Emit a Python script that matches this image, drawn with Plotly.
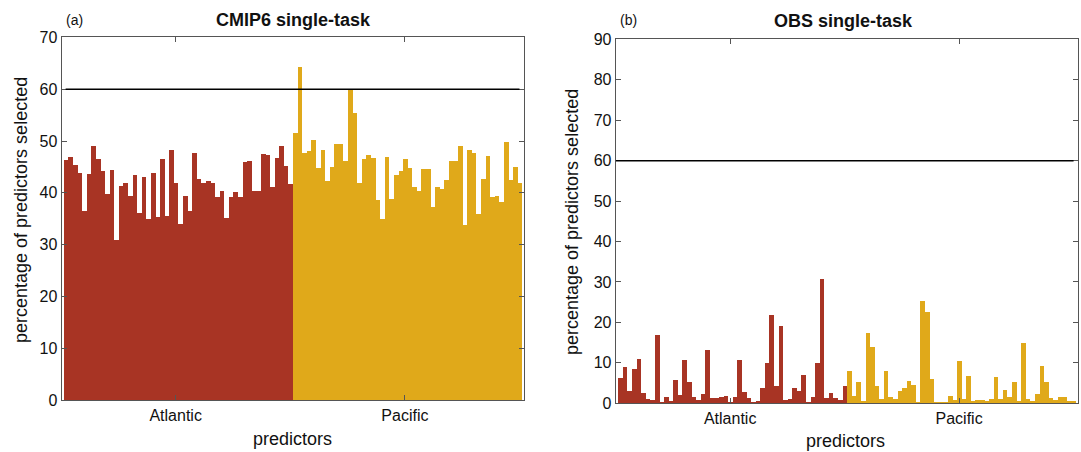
import plotly.graph_objects as go

# ---- data ----
cmip6_atlantic = [46.3, 46.9, 45.3, 43.7, 36.4, 43.5, 48.9, 46.5, 44.1, 39.7,
                  44.3, 30.9, 41.3, 41.9, 39.3, 43.3, 36.1, 43.1, 34.9, 43.7,
                  35.3, 46.5, 35.5, 48.3, 41.9, 33.9, 39.3, 36.5, 47.7, 42.6,
                  41.9, 42.3, 41.9, 39.1, 40.4, 35.1, 39.2, 40.1, 39.1, 45.9,
                  46.1, 40.3, 40.4, 47.5, 47.3, 41.1, 46.7, 49.0, 45.1, 41.7]
cmip6_pacific = [51.5, 64.3, 47.7, 48.1, 50.1, 44.7, 48.3, 42.3, 44.9, 49.3,
                 49.3, 46.1, 59.7, 55.3, 41.9, 46.5, 47.3, 46.7, 38.5, 34.9,
                 46.9, 38.7, 43.3, 44.1, 46.5, 44.7, 41.1, 40.4, 44.5, 44.5,
                 37.3, 41.0, 40.7, 42.5, 46.1, 46.1, 48.9, 33.7, 48.3, 47.7,
                 35.9, 42.7, 47.1, 39.1, 39.3, 38.1, 49.7, 42.5, 44.9, 41.9]
obs_atlantic = [6.2, 8.9, 3.0, 8.4, 11.0, 2.4, 1.0, 0.7, 16.7, 0.2,
                1.4, 0.6, 5.8, 2.0, 10.6, 5.3, 1.4, 0.7, 2.2, 13.1,
                1.2, 1.2, 1.6, 1.7, 0.2, 1.6, 10.7, 2.7, 1.2, 0.2,
                0.5, 3.6, 9.8, 21.7, 4.2, 19.1, 0.7, 1.0, 3.6, 3.0,
                7.0, 0.2, 1.4, 9.9, 30.7, 1.2, 2.5, 1.2, 0.7, 4.3]
obs_pacific = [8.0, 1.8, 5.2, 0.6, 17.2, 13.8, 4.3, 1.0, 8.0, 1.6,
               1.0, 3.0, 3.6, 5.4, 4.4, 0.2, 25.2, 22.5, 6.0, 0.2,
               0.1, 0.2, 1.8, 0.7, 10.4, 1.0, 6.7, 0.3, 0.7, 0.7,
               0.3, 1.0, 6.4, 1.0, 3.2, 1.6, 5.2, 0.3, 14.8, 1.0,
               0.3, 2.2, 9.2, 5.2, 1.3, 0.7, 1.5, 1.5, 0.6, 0.3]
region_labels = ["Atlantic", "Pacific"]
region_ticks = [25, 75]
threshold = 60

RED = "#A83424"
YEL = "#E0A91A"
AXC = "#555555"
FONT = "Liberation Sans, Arial, Helvetica, sans-serif"

n_a = len(cmip6_atlantic)
x_atl = list(range(1, n_a + 1))
x_pac = list(range(n_a + 1, n_a + len(cmip6_pacific) + 1))

fig = go.Figure()
fig.add_trace(go.Bar(x=x_atl, y=cmip6_atlantic, width=1, marker=dict(color=RED, line=dict(width=0)),
                     xaxis="x", yaxis="y", showlegend=False))
fig.add_trace(go.Bar(x=x_pac, y=cmip6_pacific, width=1, marker=dict(color=YEL, line=dict(width=0)),
                     xaxis="x", yaxis="y", showlegend=False))
fig.add_trace(go.Bar(x=x_atl, y=obs_atlantic, width=1, marker=dict(color=RED, line=dict(width=0)),
                     xaxis="x2", yaxis="y2", showlegend=False))
fig.add_trace(go.Bar(x=x_pac, y=obs_pacific, width=1, marker=dict(color=YEL, line=dict(width=0)),
                     xaxis="x2", yaxis="y2", showlegend=False))

W, H = 1081, 452

def px_x(p):
    return p / W

def px_y(p):
    return 1 - p / H

common_x = dict(showline=True, mirror="ticks", linecolor=AXC, linewidth=1,
                ticks="inside", ticklen=5, tickcolor=AXC, tickwidth=1,
                tickvals=region_ticks, ticktext=region_labels, showgrid=False,
                zeroline=False, automargin=False,
                tickfont=dict(family=FONT, size=16, color="#111"))
common_y = dict(showline=True, mirror="ticks", linecolor=AXC, linewidth=1,
                ticks="inside", ticklen=5, tickcolor=AXC, tickwidth=1,
                showgrid=False, zeroline=False, dtick=10, automargin=False,
                tickfont=dict(family=FONT, size=16, color="#111"))

fig.update_layout(
    template="none",
    width=W, height=H, margin=dict(l=0, r=0, t=0, b=0, autoexpand=False),
    paper_bgcolor="white", plot_bgcolor="white", bargap=0, barmode="overlay",
    font=dict(family=FONT, color="#111"),
    xaxis=dict(domain=[px_x(61.5), px_x(524.3)], range=[0.1, 101.05], anchor="y", **common_x),
    yaxis=dict(domain=[px_y(400.3), px_y(37.3)], range=[0, 70], anchor="x", **common_y),
    xaxis2=dict(domain=[px_x(615.7), px_x(1077.7)], range=[0.0, 100.9], anchor="y2", **common_x),
    yaxis2=dict(domain=[px_y(403.3), px_y(39.3)], range=[0, 90], anchor="x2", **common_y),
    shapes=[
        dict(type="line", xref="x", yref="y", x0=1, x1=100, y0=threshold, y1=threshold,
             line=dict(color="black", width=1.5)),
        dict(type="line", xref="x2", yref="y2", x0=0, x1=100, y0=threshold, y1=threshold,
             line=dict(color="black", width=1.5)),
    ],
)

ann = []
def add_text(x, y, text, size, bold=False, angle=0, xanchor="center"):
    ann.append(dict(x=x / W, y=1 - y / H, xref="paper", yref="paper", text=("<b>%s</b>" % text) if bold else text,
                    showarrow=False, textangle=angle, xanchor=xanchor, yanchor="middle",
                    font=dict(family=FONT, size=size, color="#111")))

add_text(293, 20, "CMIP6 single-task", 18, bold=True)
add_text(843, 21, "OBS single-task", 18, bold=True)
add_text(64, 20, "(a)", 14, xanchor="left")
add_text(618, 20, "(b)", 14, xanchor="left")
add_text(292, 439, "predictors", 18)
add_text(845, 441, "predictors", 18)
add_text(21, 210, "percentage of predictors selected", 18, angle=-90)
add_text(572, 222, "percentage of predictors selected", 18, angle=-90)
fig.update_layout(annotations=ann)

fig.write_html("out.html")
